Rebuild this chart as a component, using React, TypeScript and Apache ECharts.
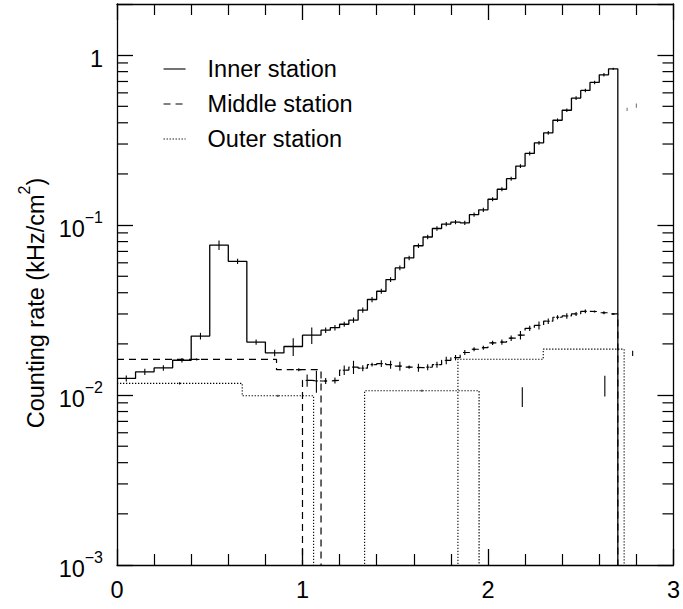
import React, { useEffect, useRef } from "react";
import * as echarts from "echarts";

const FONT = '"Liberation Sans", Arial, Helvetica, sans-serif';

// ---------- Inner station (solid histogram) ----------
const innerEdges = [
  0, 0.1, 0.2, 0.3, 0.4, 0.5, 0.6, 0.7, 0.8, 0.9, 1.0, 1.1,
  1.15, 1.2, 1.25, 1.3, 1.35, 1.4, 1.45, 1.5, 1.55, 1.6, 1.65, 1.7, 1.75, 1.8,
  1.85, 1.9, 1.95, 2.0, 2.05, 2.1, 2.15, 2.2, 2.25, 2.3, 2.35, 2.4, 2.45, 2.5,
  2.55, 2.6, 2.65, 2.7,
];
const innerValues = [
  0.01253, 0.0137, 0.01445, 0.01603, 0.02223, 0.0763, 0.0612, 0.0205, 0.0177, 0.0193, 0.0225,
  0.0241, 0.0249, 0.0261, 0.0276, 0.0316, 0.0365, 0.0408, 0.0478, 0.056, 0.0641,
  0.0756, 0.0851, 0.0955, 0.1014, 0.1042, 0.1031, 0.1153, 0.123, 0.142, 0.1625,
  0.1875, 0.2224, 0.264, 0.305, 0.349, 0.414, 0.474, 0.559, 0.62, 0.691, 0.766, 0.831,
];
const innerErrors = [
  0.00051, 0.00056, 0.00053, 0.0005, 0.001, 0.005, 0.0021, 0.00075, 0.0008, 0.0023, 0.0025,
  0.0009, 0.0009, 0.0009, 0.001, 0.0011, 0.0013, 0.0014, 0.0016, 0.0018, 0.002,
  0.0023, 0.0026, 0.0029, 0.003, 0.003, 0.003, 0.0033, 0.0035, 0.004, 0.0045,
  0.005, 0.0058, 0.0068, 0.0078, 0.0088, 0.0102, 0.0115, 0.0135, 0.015, 0.0165, 0.018, 0.012,
];

// ---------- Middle station (dashed histogram) ----------
const middleCoarseEdges = [0, 0.86, 1.1];
const middleCoarseValues = [0.0162, 0.0141];
const middleCoarseErrors = [0.00025, 0.0003];

const middleFineEdges = [
  1.0, 1.05, 1.1, 1.15, 1.2, 1.25, 1.3, 1.35, 1.4, 1.45, 1.5, 1.55, 1.6, 1.65, 1.7,
  1.75, 1.8, 1.85, 1.9, 1.95, 2.0, 2.05, 2.1, 2.15, 2.2, 2.25, 2.3, 2.35, 2.4, 2.45,
  2.5, 2.55, 2.6, 2.65, 2.7,
];
const middleFineValues = [
  0.0122, 0.0121, 0.0121, 0.0122, 0.014, 0.0146, 0.0144, 0.0151, 0.0153, 0.0151,
  0.0148, 0.0146, 0.0145, 0.0146, 0.0151, 0.016, 0.0166, 0.0178, 0.0186, 0.019,
  0.0203, 0.0205, 0.0216, 0.0225, 0.0247, 0.0257, 0.0272, 0.0287, 0.0292, 0.03,
  0.0311, 0.031, 0.0305, 0.03,
];
const middleFineErrors = [
  0.001, 0.0018, 0.0005, 0.0005, 0.0009, 0.0013, 0.0006, 0.0004, 0.0007, 0.0008,
  0.0009, 0.0003, 0.0008, 0.0006, 0.0006, 0.0008, 0.0006, 0.0006, 0.0005, 0.0005,
  0.0006, 0.0007, 0.0008, 0.0013, 0.0009, 0.0014, 0.001, 0.0008, 0.0011, 0.0008,
  0.0008, 0.0004, 0.0006, 0.0003,
];

// ---------- Outer station (dotted histogram pieces) ----------
const outerEdgesA = [0, 0.675, 1.06];
const outerValuesA = [0.01171, 0.0099];
const outerEdgesB = [1.335, 1.952];
const outerValuesB = [0.0106];
const outerEdgesC = [1.838, 2.298, 2.734];
const outerValuesC = [0.01625, 0.01862];
const outerErrorRel = 0.015;

// ---------- Isolated error bars ----------
const loneBarX = [2.185, 2.63, 2.78, 2.75, 2.8];
const loneBarLow = [0.0085, 0.0098, 0.017, 0.47, 0.49];
const loneBarHigh = [0.0111, 0.013, 0.0182, 0.49, 0.52];
const loneBarGray = [false, false, false, true, true];

// ---------- Axis ticks ----------
const yMinorTicks = [
  0.002, 0.003, 0.004, 0.005, 0.006, 0.007, 0.008, 0.009,
  0.02, 0.03, 0.04, 0.05, 0.06, 0.07, 0.08, 0.09,
  0.2, 0.3, 0.4, 0.5, 0.6, 0.7, 0.8, 0.9,
];
const X_MIN = 0;
const X_MAX = 3;
const Y_MIN = 0.001;
const Y_MAX = 2;
const FLOOR = 1e-4; // empty bins: drawn below the axis and clipped

function stepPath(edges: number[], values: number[], riseStart: boolean, dropEnd: boolean) {
  const pts: number[][] = [];
  if (riseStart) pts.push([edges[0], FLOOR]);
  for (let i = 0; i < values.length; i++) {
    pts.push([edges[i], values[i]]);
    pts.push([edges[i + 1], values[i]]);
  }
  if (dropEnd) pts.push([edges[edges.length - 1], FLOOR]);
  return pts;
}

function centers(edges: number[]) {
  const c: number[] = [];
  for (let i = 0; i < edges.length - 1; i++) c.push((edges[i] + edges[i + 1]) / 2);
  return c;
}

function errData(edges: number[], values: number[], errs: number[]) {
  const c = centers(edges);
  return values.map((v, i) => [c[i], v - errs[i], v + errs[i], v]);
}

const SOLID = { color: "#000", width: 1.3, type: "solid" as const };
const DASHED = { color: "#000", width: 1.2, type: [7, 5] as any };
const DOTTED = { color: "#000", width: 1.1, type: [1.3, 1.7] as any };

function lineSeries(name: string, data: number[][], lineStyle: any) {
  return {
    type: "line",
    name,
    data,
    symbol: "none",
    showSymbol: false,
    clip: true,
    color: "#000",
    itemStyle: { color: "#000" },
    lineStyle,
    animation: false,
    silent: true,
    z: 3,
  };
}

function errorSeries(data: number[][], halfWidth: number, color = "#000") {
  return {
    type: "custom",
    data,
    silent: true,
    z: 4,
    encode: { x: 0, y: [1, 2] },
    renderItem: (params: any, api: any) => {
      const x = api.value(0);
      const p1 = api.coord([x, api.value(1)]);
      const p2 = api.coord([x, api.value(2)]);
      const children: any[] = [
        {
          type: "line",
          shape: { x1: p1[0], y1: p1[1], x2: p2[0], y2: p2[1] },
          style: { stroke: color, lineWidth: 1.1 },
        },
      ];
      if (halfWidth > 0) {
        const v = api.value(3);
        const h1 = api.coord([x - halfWidth, v]);
        const h2 = api.coord([x + halfWidth, v]);
        children.push({
          type: "line",
          shape: { x1: h1[0], y1: h1[1], x2: h2[0], y2: h2[1] },
          style: { stroke: color, lineWidth: 1.1 },
        });
      }
      return { type: "group", children };
    },
  };
}

const FS = 23.5;
const supRich = {
  b: { fontSize: FS, fontFamily: FONT, color: "#000", lineHeight: 32, verticalAlign: "bottom" },
  s: { fontSize: 16, fontFamily: FONT, color: "#000", lineHeight: 16, verticalAlign: "top" },
};

function yLabel(value: number) {
  const l = Math.log10(value);
  const e = Math.round(l);
  if (Math.abs(l - e) > 1e-6) return "";
  if (e === 0) return "{b|1}";
  return "{b|10}{s|\u2212" + -e + "}";
}

export default function App() {
  const ref = useRef<HTMLDivElement>(null);
  useEffect(() => {
    if (!ref.current) return;
    const chart = echarts.init(ref.current, undefined, { renderer: "svg" });

    const axisLineStyle = { color: "#000", width: 1.3 };
    const xAxisBase = {
      type: "value",
      min: X_MIN,
      max: X_MAX,
      interval: 1,
      axisLine: { show: true, onZero: false, lineStyle: axisLineStyle },
      axisTick: { show: true, inside: true, length: 16, lineStyle: { color: "#000", width: 1.3 } },
      minorTick: { show: true, splitNumber: 5, length: 11, lineStyle: { color: "#000", width: 1.2 } },
      splitLine: { show: false },
      minorSplitLine: { show: false },
    };
    const yAxisBase = {
      type: "log",
      logBase: 10,
      min: Y_MIN,
      max: Y_MAX,
      axisLine: { show: true, onZero: false, lineStyle: axisLineStyle },
      axisTick: { show: true, inside: true, length: 16, lineStyle: { color: "#000", width: 1.3 } },
      splitLine: { show: false },
      minorTick: { show: false },
      minorSplitLine: { show: false },
    };

    const option: any = {
      animation: false,
      backgroundColor: "#fff",
      color: ["#000"],
      textStyle: { fontFamily: FONT },
      grid: { left: 117, right: 5, top: 4, bottom: 44, containLabel: false },
      xAxis: [
        {
          ...xAxisBase,
          position: "bottom",
          axisLabel: { show: true, margin: 13, fontSize: FS, fontFamily: FONT, color: "#000" },
        },
        { ...xAxisBase, position: "top", axisLabel: { show: false } },
      ],
      yAxis: [
        {
          ...yAxisBase,
          position: "left",
          axisLabel: { show: true, margin: 14, formatter: yLabel, rich: supRich },
        },
        { ...yAxisBase, position: "right", axisLabel: { show: false } },
      ],
      legend: {
        data: ["Inner station", "Middle station", "Outer station"],
        orient: "vertical",
        left: 158,
        top: 52,
        itemWidth: 22,
        itemHeight: 14,
        itemGap: 11,
        selectedMode: false,
        itemStyle: { color: "rgba(0,0,0,0)", opacity: 0, borderWidth: 0 },
        lineStyle: { color: "#000", width: 1.1 },
        textStyle: { fontSize: FS, fontFamily: FONT, color: "#000", padding: [0, 0, 0, 17] },
      },
      graphic: [
        {
          type: "text",
          x: 32,
          y: 303,
          rotation: Math.PI / 2,
          style: {
            text: "{b|Counting rate (kHz/cm}{s|2}{b|)}",
            rich: {
              b: { fontSize: FS, fontFamily: FONT, fill: "#000", lineHeight: 32, verticalAlign: "bottom" },
              s: { fontSize: 16, fontFamily: FONT, fill: "#000", lineHeight: 16, verticalAlign: "top" },
            },
            align: "center",
            verticalAlign: "middle",
            textAlign: "center",
            textVerticalAlign: "middle",
            fill: "#000",
          },
        },
      ],
      series: [
        lineSeries("Inner station", stepPath(innerEdges, innerValues, false, true), SOLID),
        lineSeries("Middle station", stepPath(middleCoarseEdges, middleCoarseValues, false, true), DASHED),
        lineSeries("Middle station", stepPath(middleFineEdges, middleFineValues, true, true), DASHED),
        lineSeries("Outer station", stepPath(outerEdgesA, outerValuesA, false, true), DOTTED),
        lineSeries("Outer station", stepPath(outerEdgesB, outerValuesB, true, true), DOTTED),
        lineSeries("Outer station", stepPath(outerEdgesC, outerValuesC, true, true), DOTTED),
        errorSeries(errData(innerEdges, innerValues, innerErrors), 0),
        errorSeries(errData(middleCoarseEdges, middleCoarseValues, middleCoarseErrors), 0.015),
        errorSeries(errData(middleFineEdges, middleFineValues, middleFineErrors), 0.008),
        errorSeries(
          errData(outerEdgesA, outerValuesA, outerValuesA.map((v) => v * outerErrorRel))
            .concat(errData(outerEdgesB, outerValuesB, outerValuesB.map((v) => v * outerErrorRel))),
          0
        ),
        errorSeries(
          loneBarX.filter((_, i) => !loneBarGray[i]).map((x) => {
            const idx = loneBarX.indexOf(x);
            return [x, loneBarLow[idx], loneBarHigh[idx], loneBarLow[idx]];
          }),
          0
        ),
        errorSeries(
          loneBarX.filter((_, i) => loneBarGray[i]).map((x) => {
            const idx = loneBarX.indexOf(x);
            return [x, loneBarLow[idx], loneBarHigh[idx], loneBarLow[idx]];
          }),
          0,
          "#777"
        ),
        {
          type: "custom",
          data: yMinorTicks.map((v) => [X_MIN, v]),
          silent: true,
          z: 5,
          encode: { x: 0, y: 1 },
          renderItem: (params: any, api: any) => {
            const cs = params.coordSys;
            const y = api.coord([X_MIN, api.value(1)])[1];
            return {
              type: "group",
              children: [
                { type: "line", shape: { x1: cs.x, y1: y, x2: cs.x + 11, y2: y }, style: { stroke: "#000", lineWidth: 1.2 } },
                {
                  type: "line",
                  shape: { x1: cs.x + cs.width - 11, y1: y, x2: cs.x + cs.width, y2: y },
                  style: { stroke: "#000", lineWidth: 1.2 },
                },
              ],
            };
          },
        },
      ],
    };
    chart.setOption(option);
    return () => chart.dispose();
  }, []);

  return (
    <div
      ref={ref}
      style={{ position: "fixed", left: 0, top: 0, width: 683, height: 609, background: "#fff" }}
    />
  );
}
